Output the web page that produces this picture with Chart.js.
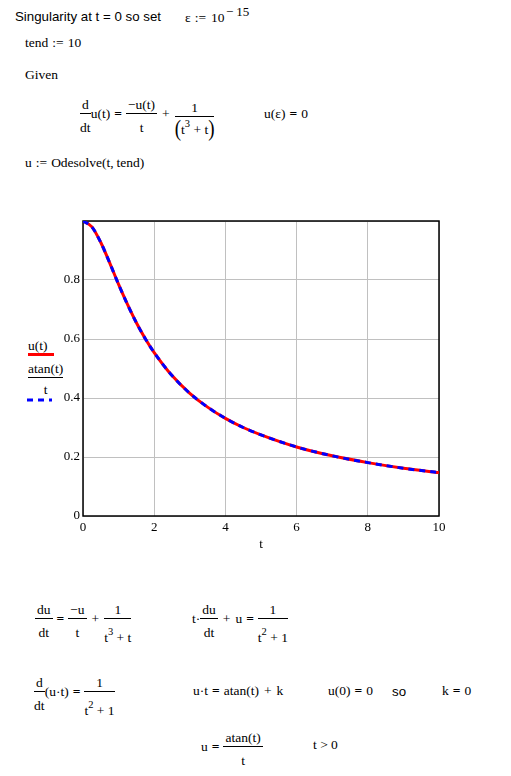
<!DOCTYPE html>
<html>
<head>
<meta charset="utf-8">
<script src="https://cdn.jsdelivr.net/npm/chart.js@4"></script>
<style>
  html, body { margin:0; padding:0; background:#fff; }
  body { width:511px; height:776px; position:relative; overflow:hidden; }
  .m { position:absolute; font-family:'Liberation Serif','Times New Roman',serif; font-size:13.5px; color:#000; white-space:nowrap; line-height:1; display:flex; align-items:center; }
  .row { height:50px; }
  .a { position:absolute; font-family:'Liberation Sans',Arial,sans-serif; font-size:13.3px; color:#000; white-space:nowrap; line-height:1; }
  .frac { display:inline-flex; flex-direction:column; align-items:center; }
  .frac .num { line-height:15px; padding:4px 2px 1px; border-bottom:1px solid #000; align-self:stretch; text-align:center; }
  .frac .den { line-height:15px; padding-top:6px; text-align:center; }
  .frac.s .num { padding-top:9px; }
  .frac.s .den { padding-top:11px; }
  .eq { font-weight:bold; margin:0 4px; }
  .op { margin:0 5px; }
  sup { font-size:10.5px; line-height:0; vertical-align:baseline; position:relative; top:-7px; }
  .par { font-size:19px; transform:scaleY(1.25); display:inline-block; }
  #wrap { position:absolute; left:0; top:200px; width:511px; height:360px; }
</style>
</head>
<body>
<div class="a" style="left:15px;top:10px;">Singularity at t = 0 so set</div>
<div class="m" style="left:185px;top:11px;">ε<span style="margin:0 5px 0 4px;">:=</span>10</div>
<div class="m" style="left:226px;top:5px;font-size:13px;">−<span style="margin-left:3px">15</span></div>

<div class="m" style="left:25px;top:36px;">tend<span style="margin:0 4px;">:=</span>10</div>
<div class="m" style="left:25px;top:68px;">Given</div>

<div class="m row" style="left:80px;top:89px;">
  <span class="frac"><span class="num">d</span><span class="den">dt</span></span>u(t)<span class="eq">=</span>
  <span class="frac"><span class="num">−u(t)</span><span class="den">t</span></span><span class="op">+</span>
  <span class="frac" style="position:relative;top:1px;"><span class="num" style="padding-top:9px;">1</span><span class="den" style="line-height:20px;padding-top:1px;"><span class="par">(</span>t<sup>3</sup>&nbsp;+&nbsp;t<span class="par">)</span></span></span>
</div>
<div class="m row" style="left:264px;top:89px;">u(ε)<span class="eq">=</span>0</div>

<div class="m" style="left:25px;top:156px;">u<span style="margin:0 4px;">:=</span>Odesolve(t,&thinsp;tend)</div>

<!-- legend -->
<div class="m" style="left:28px;top:339px;">u(t)</div>
<div style="position:absolute;left:28px;top:353px;width:26px;height:3px;background:#ff0000;"></div>
<div class="m" style="left:28px;top:361px;"><span class="frac"><span class="num" style="padding:0 0 1px;">atan(t)</span><span class="den" style="padding-top:4px;">t</span></span></div>
<svg style="position:absolute;left:0;top:0;" width="60" height="420"><line x1="27" y1="400" x2="52" y2="400" stroke="#0000ff" stroke-width="3" stroke-dasharray="6,5"/></svg>

<div id="wrap"><canvas id="c" width="511" height="360"></canvas></div>

<!-- bottom equations -->
<div class="m row" style="left:35px;top:594px;">
  <span class="frac"><span class="num">du</span><span class="den">dt</span></span><span class="eq">=</span>
  <span class="frac"><span class="num">−u</span><span class="den">t</span></span><span class="op">+</span>
  <span class="frac s"><span class="num">1</span><span class="den">t<sup>3</sup>&nbsp;+&nbsp;t</span></span>
</div>
<div class="m row" style="left:192px;top:594px;">
  t·<span class="frac"><span class="num">du</span><span class="den">dt</span></span><span class="op">+</span>u<span class="eq">=</span>
  <span class="frac s"><span class="num">1</span><span class="den">t<sup>2</sup>&nbsp;+&nbsp;1</span></span>
</div>

<div class="m row" style="left:34px;top:667px;">
  <span class="frac"><span class="num">d</span><span class="den">dt</span></span>(u·t)<span class="eq">=</span>
  <span class="frac s"><span class="num">1</span><span class="den">t<sup>2</sup>&nbsp;+&nbsp;1</span></span>
</div>
<div class="m row" style="left:193px;top:666px;">u·t<span class="eq">=</span>atan(t)<span class="op">+</span>k</div>
<div class="m row" style="left:328px;top:666px;">u(0)<span class="eq">=</span>0</div>
<div class="a" style="left:392px;top:685px;">so</div>
<div class="m row" style="left:442px;top:666px;">k<span class="eq">=</span>0</div>

<div class="m row" style="left:201px;top:722px;">u<span class="eq">=</span>
  <span class="frac"><span class="num">atan(t)</span><span class="den">t</span></span>
</div>
<div class="m row" style="left:313px;top:720px;">t&nbsp;&gt;&nbsp;0</div>

<script>
const tValues     = [0, 0.25, 0.5, 0.75, 1, 1.25, 1.5, 1.75, 2, 2.5, 3, 3.5, 4, 4.5, 5, 6, 7, 8, 9, 10];
const uValues     = [1.000, 0.980, 0.927, 0.858, 0.785, 0.717, 0.655, 0.601, 0.554, 0.476, 0.416, 0.369, 0.331, 0.300, 0.275, 0.234, 0.204, 0.181, 0.162, 0.147];
const atanValues  = [1.000, 0.980, 0.927, 0.858, 0.785, 0.717, 0.655, 0.601, 0.554, 0.476, 0.416, 0.369, 0.331, 0.300, 0.275, 0.234, 0.204, 0.181, 0.162, 0.147];
const xTickLabels = [0, 2, 4, 6, 8, 10];
const yTickLabels = [0, 0.2, 0.4, 0.6, 0.8];

const toPts = vals => tValues.map((t, i) => ({ x: t, y: vals[i] }));

const frame = {
  id: 'frame',
  beforeDatasetsDraw(chart) {
    const a = chart.chartArea, ctx = chart.ctx;
    ctx.save();
    ctx.strokeStyle = '#000';
    ctx.lineWidth = 1.5;
    ctx.strokeRect(a.left, a.top, a.right - a.left, a.bottom - a.top);
    ctx.restore();
  }
};

new Chart(document.getElementById('c'), {
  type: 'line',
  data: {
    datasets: [
      { label: 'u(t)', data: toPts(uValues), borderColor: '#ff0000', borderWidth: 3,
        pointRadius: 0, cubicInterpolationMode: 'monotone', order: 2, fill: false },
      { label: 'atan(t)/t', data: toPts(atanValues), borderColor: '#0000ff', borderWidth: 3,
        borderDash: [6, 5], pointRadius: 0, cubicInterpolationMode: 'monotone', order: 1, fill: false }
    ]
  },
  options: {
    responsive: false, animation: false, devicePixelRatio: 1,
    layout: { padding: { left: 0, right: 72, top: 21, bottom: 0 } },
    plugins: { legend: { display: false }, tooltip: { enabled: false } },
    scales: {
      x: {
        type: 'linear', min: 0, max: 10,
        afterFit(s) { s.height = 44; },
        afterBuildTicks(s) { s.ticks = xTickLabels.map(v => ({ value: v })); },
        ticks: { padding: 4, color: '#000', font: { family: 'Liberation Serif', size: 13 }, maxRotation: 0,
                 callback: v => String(v) },
        grid: { color: '#c0c0c0', lineWidth: 1, drawTicks: false },
        border: { display: false },
        title: { display: true, text: 't', color: '#000', font: { family: 'Liberation Serif', size: 13 }, padding: { top: 0, bottom: 8 } }
      },
      y: {
        min: 0, max: 1,
        afterFit(s) { s.width = 83; },
        afterBuildTicks(s) { s.ticks = yTickLabels.concat([1]).map(v => ({ value: v })); },
        ticks: { padding: 3, color: '#000', font: { family: 'Liberation Serif', size: 13 },
                 callback: v => (v >= 1 ? '' : String(v)) },
        grid: { color: '#c0c0c0', lineWidth: 1, drawTicks: false },
        border: { display: false }
      }
    }
  },
  plugins: [frame]
});
</script>
</body>
</html>
